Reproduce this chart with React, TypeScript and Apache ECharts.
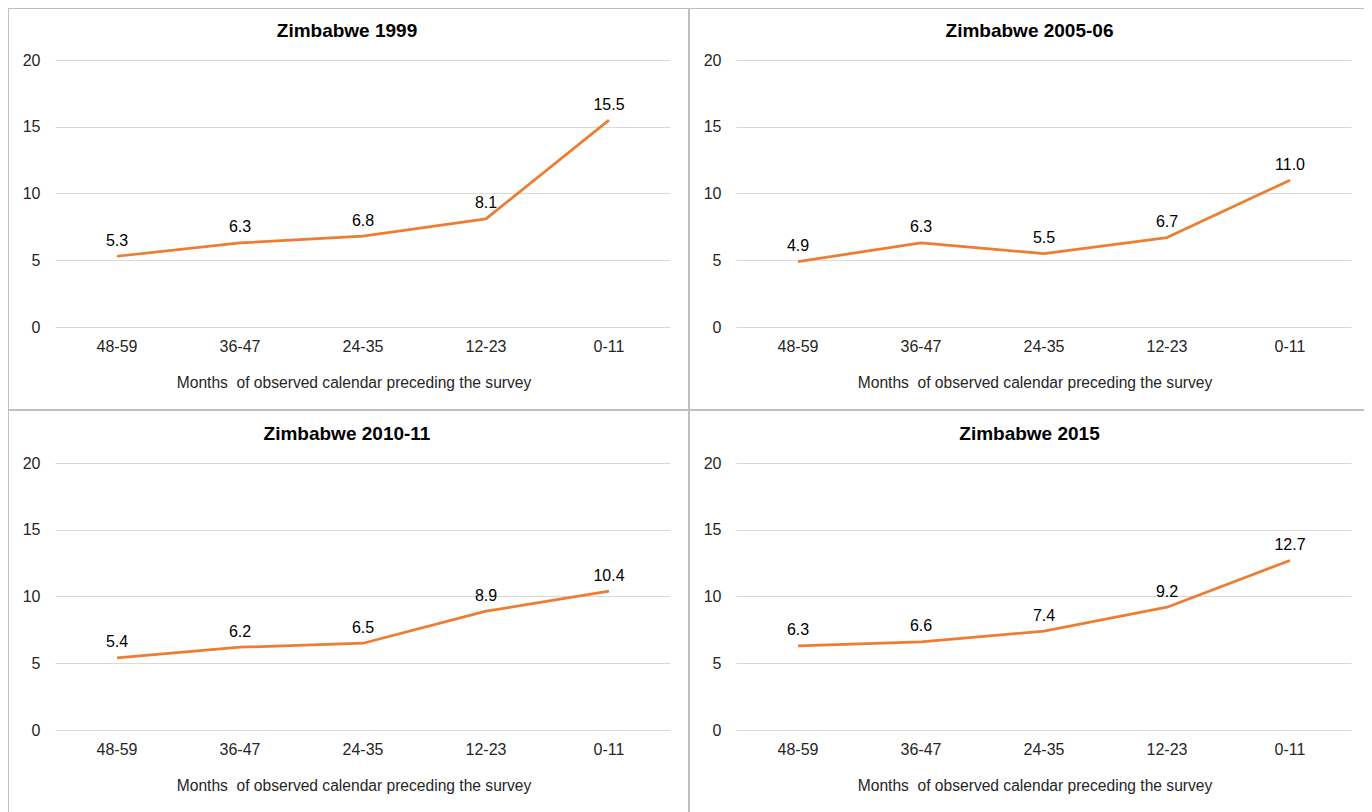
import React, { useEffect, useRef } from "react";
import * as echarts from "echarts";

const categories = ["48-59", "36-47", "24-35", "12-23", "0-11"];
const titles = ["Zimbabwe 1999", "Zimbabwe 2005-06", "Zimbabwe 2010-11", "Zimbabwe 2015"];
const values1999 = [5.3, 6.3, 6.8, 8.1, 15.5];
const values2005 = [4.9, 6.3, 5.5, 6.7, 11.0];
const values2010 = [5.4, 6.2, 6.5, 8.9, 10.4];
const values2015 = [6.3, 6.6, 7.4, 9.2, 12.7];
const allValues = [values1999, values2005, values2010, values2015];
const xAxisName = "Months  of observed calendar preceding the survey";

const W = 1364;
const H = 804;
const FONT = "'Liberation Sans', Arial, sans-serif";

export default function App() {
  const ref = useRef<HTMLDivElement>(null);
  useEffect(() => {
    const chart = echarts.init(ref.current!, null, { renderer: "svg" });
    const gridLeft = [47.5, 728.5];
    const gridTop = [52, 455];
    const titleCenterX = [334, 1016.5];
    const titleY = [17, 420];

    const grids: any[] = [];
    const xAxes: any[] = [];
    const yAxes: any[] = [];
    const series: any[] = [];
    const titleArr: any[] = [];
    allValues.forEach((vals, i) => {
      const col = i % 2;
      const row = Math.floor(i / 2);
      grids.push({ left: gridLeft[col], top: gridTop[row], width: 615, height: 267 });
      xAxes.push({
        type: "category",
        gridIndex: i,
        data: categories,
        boundaryGap: true,
        axisLine: { show: false },
        axisTick: { show: false },
        axisLabel: { color: "#262626", fontSize: 16, fontFamily: FONT, margin: 11 },
        name: xAxisName,
        nameLocation: "middle",
        nameGap: 47,
        nameTextStyle: {
          color: "#262626",
          fontSize: 15.6,
          fontFamily: FONT,
          padding: [0, 18, 0, 0],
        },
      });
      yAxes.push({
        type: "value",
        gridIndex: i,
        min: 0,
        max: 20,
        interval: 5,
        axisLine: { show: false },
        axisTick: { show: false },
        axisLabel: { color: "#262626", fontSize: 16, fontFamily: FONT, margin: 15 },
        splitLine: { lineStyle: { color: "#d9d9d9", width: 1 } },
      });
      series.push({
        type: "line",
        xAxisIndex: i,
        yAxisIndex: i,
        data: vals,
        symbol: "circle",
        symbolSize: 0,
        showSymbol: true,
        lineStyle: { color: "#ED7D31", width: 2.75 },
        itemStyle: { color: "#ED7D31" },
        label: {
          show: true,
          position: "top",
          distance: 8,
          color: "#000",
          fontSize: 16,
          fontFamily: FONT,
          formatter: (p: any) => Number(p.value).toFixed(1),
        },
      });
      titleArr.push({
        text: titles[i],
        left: titleCenterX[col],
        top: titleY[row],
        textAlign: "center",
        textVerticalAlign: "middle",
        textStyle: { fontSize: 19, fontWeight: "bold", color: "#000", fontFamily: FONT },
      });
    });

    const border = { stroke: "#bfbfbf", lineWidth: 2 };
    const graphic: any[] = [
      { type: "line", shape: { x1: 0, y1: 0, x2: 1362, y2: 0 }, style: border },
      { type: "line", shape: { x1: 0, y1: 0, x2: 0, y2: H }, style: border },
      { type: "line", shape: { x1: 1361, y1: 0, x2: 1361, y2: H }, style: border },
      { type: "line", shape: { x1: 681, y1: 0, x2: 681, y2: H }, style: border },
      { type: "line", shape: { x1: 0, y1: 402, x2: 1362, y2: 402 }, style: border },
    ];

    chart.setOption({
      animation: false,
      backgroundColor: "#fff",
      title: titleArr,
      grid: grids,
      xAxis: xAxes,
      yAxis: yAxes,
      series,
      graphic,
    });
    return () => chart.dispose();
  }, []);
  return <div ref={ref} style={{ width: W, height: H }} />;
}
